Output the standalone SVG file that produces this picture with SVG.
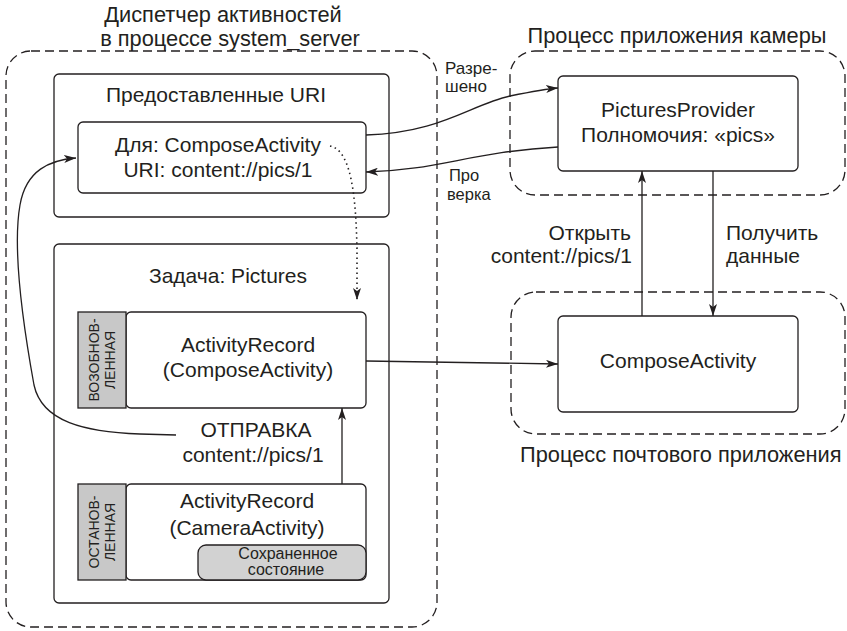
<svg xmlns="http://www.w3.org/2000/svg" width="847" height="631" viewBox="0 0 847 631">
<style>
text{font-family:"Liberation Sans",Arial,sans-serif;fill:#231f20}
.t{font-size:21.8px}
.b{font-size:21px}
.s{font-size:17px}
.v{font-size:14px}
.ss{font-size:16px}
.m{text-anchor:middle}
.dash{fill:none;stroke:#231f20;stroke-width:1.3;stroke-dasharray:9 5}
.box{fill:#fff;stroke:#231f20;stroke-width:1.3}
.gray{fill:#c8c8c8;stroke:#231f20;stroke-width:1.3}
.saved{fill:#d2d2d2;stroke:#231f20;stroke-width:1.3}
.c{fill:none;stroke:#231f20;stroke-width:1.3}
.dot{fill:none;stroke:#231f20;stroke-width:1.6;stroke-dasharray:1.5 3.5}
</style>
<defs>
<marker id="ah" viewBox="0 0 12 8" refX="12" refY="4" markerWidth="12" markerHeight="8" markerUnits="userSpaceOnUse" orient="auto">
<path d="M0,0 L12,4 L0,8 L3,4 z" fill="#231f20"/>
</marker>
</defs>

<g id="am-process">
<rect class="dash" x="6" y="51" width="431" height="576" rx="25"/>
<text class="t m" x="223" y="22">Диспетчер активностей</text>
<text class="t m" x="230" y="46">в процессе system_server</text>
</g>

<g id="camera-process">
<rect class="dash" x="510" y="51" width="335" height="144" rx="25"/>
<text class="t m" x="677" y="43">Процесс приложения камеры</text>
</g>

<g id="mail-process">
<rect class="dash" x="511" y="292" width="334" height="142" rx="25"/>
<text class="t" x="520" y="462">Процесс почтового приложения</text>
</g>

<g id="granted-uris">
<rect class="box" x="54" y="74" width="335" height="143" rx="5"/>
<text class="b m" x="216" y="102">Предоставленные URI</text>
</g>

<g id="grant-entry">
<rect class="box" x="78" y="122" width="288" height="71" rx="5"/>
<text class="b m" x="218" y="152">Для: ComposeActivity</text>
<text class="b m" x="218" y="177">URI: content://pics/1</text>
</g>

<g id="task">
<rect class="box" x="54" y="244" width="335" height="359" rx="5"/>
<text class="b m" x="228" y="283">Задача: Pictures</text>
</g>

<g id="ar-compose">
<rect class="box" x="126" y="312" width="240" height="96" rx="5"/>
<rect class="gray" x="78" y="312" width="48" height="96"/>
<text class="v m" transform="translate(99,360) rotate(-90)">ВОЗОБНОВ-</text>
<text class="v m" transform="translate(115,360) rotate(-90)">ЛЕННАЯ</text>
<text class="b m" x="248" y="352">ActivityRecord</text>
<text class="b m" x="248" y="377">(ComposeActivity)</text>
</g>

<g id="ar-camera">
<rect class="box" x="126" y="484" width="240" height="96" rx="5"/>
<rect class="gray" x="78" y="484" width="48" height="96"/>
<text class="v m" transform="translate(99,532) rotate(-90)">ОСТАНОВ-</text>
<text class="v m" transform="translate(115,532) rotate(-90)">ЛЕННАЯ</text>
<text class="b m" x="247" y="508">ActivityRecord</text>
<text class="b m" x="247" y="535">(CameraActivity)</text>
<rect class="saved" x="198" y="545" width="168" height="35" rx="8"/>
<text class="ss m" x="288" y="559">Сохраненное</text>
<text class="ss m" x="286" y="575">состояние</text>
</g>

<g id="pictures-provider">
<rect class="box" x="558" y="76" width="240" height="95" rx="5"/>
<text class="b m" x="678" y="117">PicturesProvider</text>
<text class="b m" x="678" y="142">Полномочия: «pics»</text>
</g>

<g id="compose-activity">
<rect class="box" x="558" y="316" width="240" height="96" rx="5"/>
<text class="b m" x="678" y="368">ComposeActivity</text>
</g>

<g id="connectors">
<path class="dot" d="M330,146 C352,150 356,200 357,250 L357,300" marker-end="url(#ah)"/>
<path class="c" d="M366,135 C440,133 470,105 510,96 C530,92 545,89 558,88" marker-end="url(#ah)"/>
<path class="c" d="M558,147 C470,152 440,170 366,172" marker-end="url(#ah)"/>
<path class="c" d="M342,484 L342,408" marker-end="url(#ah)"/>
<path class="c" d="M176,435 L140,434 C85,432 42,422 34,385 C24,330 12,250 20,205 C26,170 50,160 76,158" marker-end="url(#ah)"/>
<path class="c" d="M366,361 L558,364" marker-end="url(#ah)"/>
<path class="c" d="M642,316 L642,171" marker-end="url(#ah)"/>
<path class="c" d="M713,171 L713,316" marker-end="url(#ah)"/>
<text class="s" x="445" y="74">Разре-</text>
<text class="s" x="445" y="92">шено</text>
<text class="s" x="449" y="181" style="font-size:16.5px">Про</text>
<text class="s" x="447" y="200" style="font-size:16.5px">верка</text>
<text class="b" x="631" y="240" text-anchor="end">Открыть</text>
<text class="b" x="632" y="263" text-anchor="end">content://pics/1</text>
<text class="b" x="726" y="240">Получить</text>
<text class="b" x="726" y="263">данные</text>
<text class="b m" x="256" y="437">ОТПРАВКА</text>
<text class="b m" x="253" y="462">content://pics/1</text>
</g>
</svg>
